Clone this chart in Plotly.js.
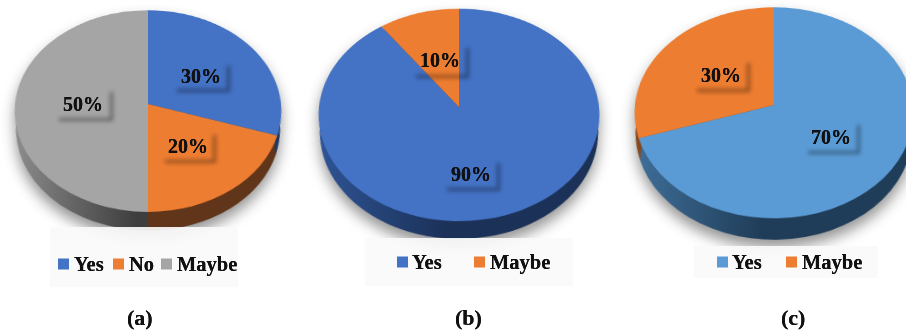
<!DOCTYPE html>
<html>
<head>
<meta charset="utf-8">
<script src="https://cdn.plot.ly/plotly-3.0.1.min.js"></script>
<style>
  html, body { margin: 0; padding: 0; background: #fff; }
  #stage { position: relative; width: 906px; height: 330px; overflow: hidden; }
  .halo { position: absolute; filter: drop-shadow(0 8px 7px rgba(0,0,0,.42)); }
  .disk { position: absolute; left: 0; top: 0; }
  #overlay { position: absolute; left: 0; top: 0; width: 906px; height: 330px; }
</style>
</head>
<body>
<div id="stage"></div>
<script>
// Survey answers per panel
const labelsA = ['Yes', 'No', 'Maybe'];
const valuesA = [30, 20, 50];
const labelsB = ['Yes', 'Maybe'];
const valuesB = [90, 10];
const labelsC = ['Yes', 'Maybe'];
const valuesC = [70, 30];

// Slice colours and side-wall shading (lit end, dark end)
const coloursA = ['#4472C4', '#ED7D31', '#A5A5A5'];
const wallsA = [['#2F5597', '#203864'], ['#6E3D1D', '#60351A'], ['#8F8F8F', '#3E3E3E']];
const coloursB = ['#4472C4', '#ED7D31'];
const wallsB = [['#2F5597', '#1B3158'], ['#6E3D1D', '#60351A']];
const coloursC = ['#5B9BD5', '#ED7D31'];
const wallsC = [['#41719C', '#1F3D58'], ['#8A4A1E', '#60351A']];

const SERIF = 'Liberation Serif, Times New Roman, serif';

const panels = [
  { labels: labelsA, values: valuesA, colours: coloursA, walls: wallsA,
    cx: 148, cy: 104, radius: 133, depth: 24, persp: 1250,
    caption: '(a)', captionX: 140,
    panelBox: [50, 227, 238, 287],
    textBoxes: [[174, 63, 227, 89], [162, 132, 213, 160], [56, 89, 110, 118]],
    legendY: 264, legendAt: [[58, 72], [113, 127], [161, 175]] },
  { labels: labelsB, values: valuesB, colours: coloursB, walls: wallsB,
    cx: 459, cy: 107, radius: 140, depth: 23, persp: 1230,
    caption: '(b)', captionX: 468,
    panelBox: [365, 238, 573, 286],
    textBoxes: [[444, 160, 497, 188], [413, 45, 466, 75]],
    legendY: 262, legendAt: [[397, 410], [474, 488]] },
  { labels: labelsC, values: valuesC, colours: coloursC, walls: wallsC,
    cx: 774, cy: 105, radius: 139, depth: 27, persp: 1230,
    caption: '(c)', captionX: 793,
    panelBox: [694, 246, 878, 278],
    textBoxes: [[805, 122, 857, 151], [694, 60, 747, 89]],
    legendY: 262, legendAt: [[717, 730], [786, 800]] }
];

const TILT = 41;          // disk tilt in degrees
const WALL_LAYERS = 8;    // stacked copies that form the side wall
const WALL_INSET = 3;     // the wall sits slightly inside the disk rim

const stage = document.getElementById('stage');

function drawDisk(p, idx) {
  const D = p.radius * 2;
  const H = D + p.depth;
  const halo = document.createElement('div');
  halo.className = 'halo';
  halo.style.cssText = `left:${p.cx - p.radius}px;top:${p.cy - p.radius}px;width:${D}px;height:${H}px`;
  const disk = document.createElement('div');
  disk.className = 'disk';
  disk.style.width = D + 'px';
  disk.style.height = H + 'px';
  disk.style.transformOrigin = `${p.radius}px ${p.radius}px`;
  disk.style.transform = `perspective(${p.persp}px) rotateX(${TILT}deg)`;
  halo.appendChild(disk);
  stage.appendChild(halo);

  const common = { labels: p.labels, values: p.values, type: 'pie', sort: false,
    direction: 'clockwise', rotation: 0, textinfo: 'none', hoverinfo: 'skip',
    showlegend: false };
  const traces = [];
  const inset = WALL_INSET / D;
  for (let i = WALL_LAYERS; i >= 1; i--) {
    const shift = p.depth * i / WALL_LAYERS;
    traces.push(Object.assign({}, common, {
      marker: { colors: p.walls.map(w => w[1]), line: { width: 0 } },
      domain: { x: [inset, 1 - inset], y: [1 - (shift + D) / H, 1 - shift / H] }
    }));
  }
  traces.push(Object.assign({}, common, {
    marker: { colors: p.colours, line: { width: 0 } },
    domain: { x: [0, 1], y: [1 - D / H, 1] }
  }));

  return Plotly.newPlot(disk, traces, {
    width: D, height: H, margin: { l: 0, r: 0, t: 0, b: 0 },
    paper_bgcolor: 'rgba(0,0,0,0)', plot_bgcolor: 'rgba(0,0,0,0)'
  }, { staticPlot: true, displayModeBar: false }).then(() => {
    // Shade the side wall from left to right
    const svg = disk.querySelector('svg.main-svg');
    const NS = 'http://www.w3.org/2000/svg';
    const defs = svg.querySelector('defs') || svg.insertBefore(document.createElementNS(NS, 'defs'), svg.firstChild);
    p.walls.forEach((w, k) => {
      const g = document.createElementNS(NS, 'linearGradient');
      g.setAttribute('id', `wall-${idx}-${k}`);
      g.setAttribute('gradientUnits', 'userSpaceOnUse');
      g.setAttribute('x1', 0); g.setAttribute('y1', 0);
      g.setAttribute('x2', D); g.setAttribute('y2', 0);
      [[0, w[0]], [0.46, w[1]], [1, w[1]]].forEach(s => {
        const st = document.createElementNS(NS, 'stop');
        st.setAttribute('offset', s[0]);
        st.setAttribute('stop-color', s[1]);
        g.appendChild(st);
      });
      defs.appendChild(g);
    });
    const groups = disk.querySelectorAll('.pielayer .trace');
    groups.forEach((t, ti) => {
      if (ti === groups.length - 1) return;
      t.querySelectorAll('.slice').forEach((s, k) => {
        const path = s.querySelector('path.surface');
        if (path) path.style.fill = `url(#wall-${idx}-${k})`;
      });
    });
  });
}

function drawOverlay() {
  const div = document.createElement('div');
  div.id = 'overlay';
  stage.appendChild(div);
  const shapes = [];
  const annotations = [];
  const shadowIdx = [];
  const txt = (x, y, text, size, anchor) => ({
    x, y, text, xref: 'x', yref: 'y', showarrow: false,
    xanchor: anchor, yanchor: 'middle',
    font: { family: SERIF, size, weight: 700, color: '#111', shadow: '0 0 0.6px #000' }
  });
  panels.forEach(p => {
    const b = p.panelBox;
    shapes.push({ type: 'rect', xref: 'x', yref: 'y', x0: b[0], y0: b[1], x1: b[2], y1: b[3],
      fillcolor: 'rgba(250,250,250,0.92)', line: { width: 0 }, layer: 'above' });
    p.values.forEach((v, i) => {
      const [x0, y0, x1, y1] = p.textBoxes[i];
      const o = 3;
      shadowIdx.push(shapes.length);
      shapes.push({ type: 'path', xref: 'x', yref: 'y', layer: 'above',
        path: `M${x1},${y0 + o}L${x1 + o},${y0 + o}L${x1 + o},${y1 + o}L${x0 + o},${y1 + o}L${x0 + o},${y1}L${x1},${y1}Z`,
        fillcolor: 'rgba(0,0,0,0.4)', line: { width: 0 } });
      annotations.push(txt((x0 + x1) / 2, (y0 + y1) / 2, v + '%', 20, 'center'));
      const [sx, tx] = p.legendAt[i];
      shapes.push({ type: 'rect', xref: 'x', yref: 'y', layer: 'above',
        x0: sx, x1: sx + 11, y0: p.legendY - 5.5, y1: p.legendY + 5.5,
        fillcolor: p.colours[i], line: { width: 0 } });
      annotations.push(txt(tx, p.legendY, p.labels[i], 20.5, 'left'));
    });
    annotations.push(txt(p.captionX, 317, p.caption, 22, 'center'));
  });
  return Plotly.newPlot(div, [], {
    width: 906, height: 330, margin: { l: 0, r: 0, t: 0, b: 0 },
    paper_bgcolor: 'rgba(0,0,0,0)', plot_bgcolor: 'rgba(0,0,0,0)',
    xaxis: { range: [0, 906], visible: false, fixedrange: true },
    yaxis: { range: [330, 0], visible: false, fixedrange: true },
    shapes, annotations, showlegend: false
  }, { staticPlot: true, displayModeBar: false }).then(() => {
    div.querySelectorAll('.shapelayer path').forEach(el => {
      if (shadowIdx.includes(+el.getAttribute('data-index'))) el.style.filter = 'blur(2px)';
    });
  });
}

Promise.all(panels.map(drawDisk)).then(drawOverlay);
</script>
</body>
</html>
